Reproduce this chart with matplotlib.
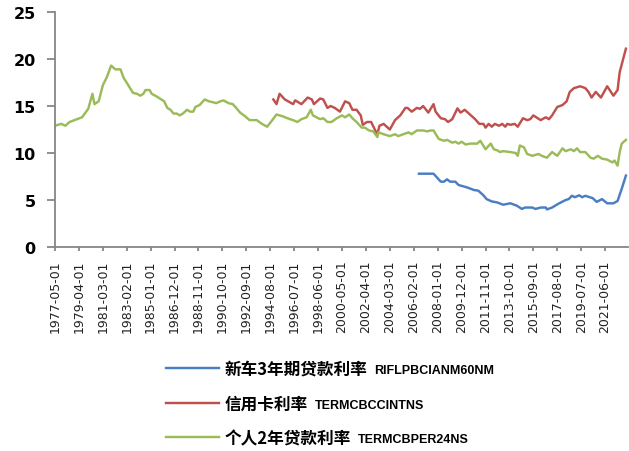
import numpy as np
import matplotlib
matplotlib.use('Agg')
import matplotlib.pyplot as plt

# category axis: monthly dates starting 1977-05, label every 23 months
start_year, start_month = 1977, 5
n_months = 551
label_step = 23

car_name = '新车3年期贷款利率'
car_code = 'RIFLPBCIANM60NM'
car_dates = ['2006-07', '2007-09', '2008-04', '2008-07', '2008-10', '2009-01', '2009-06', '2009-09',
             '2010-05', '2010-12', '2011-04', '2011-09', '2011-12', '2012-05', '2012-10', '2013-04',
             '2013-11', '2014-05', '2014-10', '2015-01', '2015-08', '2015-11', '2016-04', '2016-09',
             '2016-10', '2017-03', '2017-09', '2018-04', '2018-07', '2018-10', '2019-01', '2019-05',
             '2019-08', '2019-11', '2020-06', '2020-10', '2021-03', '2021-08', '2022-02', '2022-06',
             '2022-10', '2023-02']
car_rate = [7.8, 7.8, 6.95, 6.95, 7.2, 6.95, 6.95, 6.6,
            6.35, 6.06, 6.0, 5.5, 5.1, 4.85, 4.75, 4.5,
            4.65, 4.4, 4.05, 4.2, 4.2, 4.05, 4.2, 4.2,
            4.0, 4.2, 4.6, 5.0, 5.1, 5.45, 5.3, 5.5,
            5.3, 5.45, 5.2, 4.8, 5.1, 4.65, 4.65, 4.9,
            6.2, 7.6]

card_name = '信用卡利率'
card_code = 'TERMCBCCINTNS'
card_dates = ['1994-11', '1995-02', '1995-05', '1995-10', '1996-06', '1996-08', '1997-02', '1997-08',
              '1997-12', '1998-02', '1998-08', '1998-11', '1999-03', '1999-06', '1999-10', '2000-03',
              '2000-08', '2000-12', '2001-03', '2001-07', '2001-11', '2002-01', '2002-05', '2002-09',
              '2003-01', '2003-03', '2003-05', '2003-09', '2004-03', '2004-08', '2005-01', '2005-06',
              '2005-08', '2005-12', '2006-05', '2006-08', '2006-11', '2007-04', '2007-09', '2007-11',
              '2008-04', '2008-08', '2008-11', '2009-03', '2009-08', '2009-11', '2010-03', '2010-08',
              '2011-01', '2011-05', '2011-09', '2011-11', '2012-02', '2012-05', '2012-08', '2012-12',
              '2013-03', '2013-06', '2013-08', '2013-11', '2014-03', '2014-06', '2014-11', '2015-03',
              '2015-06', '2015-09', '2016-04', '2016-09', '2016-12', '2017-03', '2017-08', '2018-01',
              '2018-05', '2018-08', '2018-12', '2019-06', '2019-11', '2020-02', '2020-05', '2020-09',
              '2021-02', '2021-08', '2022-02', '2022-06', '2022-08', '2023-02']
card_rate = [15.7, 15.2, 16.3, 15.7, 15.2, 15.6, 15.2, 15.9,
             15.7, 15.2, 15.8, 15.7, 14.8, 15.0, 14.8, 14.4,
             15.5, 15.3, 14.6, 14.6, 14.0, 13.0, 13.3, 13.3,
             12.4, 12.0, 12.9, 13.1, 12.5, 13.5, 14.0, 14.8,
             14.8, 14.4, 14.8, 14.7, 15.0, 14.3, 15.2, 14.4,
             13.7, 13.6, 13.3, 13.6, 14.75, 14.3, 14.6, 14.1,
             13.6, 13.1, 13.1, 12.7, 13.1, 12.8, 13.1, 12.9,
             13.1, 12.8, 13.1, 13.0, 13.1, 12.8, 13.7, 13.5,
             13.6, 14.0, 13.5, 13.8, 13.6, 14.0, 14.9, 15.1,
             15.5, 16.5, 16.9, 17.1, 16.9, 16.5, 15.9, 16.5,
             15.9, 17.1, 16.1, 16.7, 18.6, 21.1]

personal_name = '个人2年贷款利率'
personal_code = 'TERMCBPER24NS'
personal_dates = ['1977-05', '1977-11', '1978-03', '1978-07', '1979-07', '1980-01', '1980-05', '1980-07',
                  '1980-11', '1981-03', '1981-07', '1981-11', '1982-03', '1982-08', '1982-11', '1983-03',
                  '1983-08', '1983-12', '1984-03', '1984-06', '1984-08', '1984-12', '1985-02', '1985-07',
                  '1986-02', '1986-05', '1986-08', '1986-11', '1987-02', '1987-05', '1987-08', '1987-12',
                  '1988-03', '1988-06', '1988-08', '1988-12', '1989-05', '1989-09', '1990-01', '1990-04',
                  '1990-08', '1990-11', '1991-04', '1991-08', '1991-12', '1992-03', '1992-08', '1992-12',
                  '1993-07', '1993-12', '1994-05', '1994-10', '1995-02', '1995-08', '1996-03', '1996-06',
                  '1996-10', '1997-02', '1997-07', '1997-11', '1998-01', '1998-08', '1998-11', '1999-03',
                  '1999-07', '1999-12', '2000-05', '2000-08', '2000-12', '2001-03', '2001-07', '2001-12',
                  '2002-03', '2002-07', '2002-11', '2003-03', '2003-04', '2003-09', '2004-03', '2004-08',
                  '2004-11', '2005-04', '2005-09', '2005-12', '2006-05', '2006-11', '2007-03', '2007-06',
                  '2007-09', '2008-02', '2008-07', '2008-10', '2009-03', '2009-06', '2009-09', '2009-12',
                  '2010-04', '2010-08', '2011-03', '2011-06', '2011-11', '2012-04', '2012-07', '2012-10',
                  '2013-01', '2013-04', '2013-11', '2014-04', '2014-06', '2014-08', '2014-12', '2015-03',
                  '2015-08', '2016-02', '2016-05', '2016-10', '2017-03', '2017-08', '2018-01', '2018-04',
                  '2018-09', '2018-12', '2019-03', '2019-06', '2019-11', '2020-04', '2020-07', '2020-11',
                  '2021-03', '2021-08', '2022-01', '2022-03', '2022-06', '2022-08', '2022-10', '2023-02']
personal_rate = [12.9, 13.1, 12.9, 13.3, 13.8, 14.7, 16.3, 15.2,
                 15.5, 17.2, 18.1, 19.3, 18.9, 18.9, 18.0, 17.3,
                 16.4, 16.3, 16.1, 16.3, 16.7, 16.7, 16.3, 16.0,
                 15.5, 14.8, 14.6, 14.2, 14.2, 14.0, 14.2, 14.6,
                 14.4, 14.4, 14.9, 15.1, 15.7, 15.5, 15.4, 15.3,
                 15.5, 15.6, 15.3, 15.2, 14.7, 14.3, 13.9, 13.5,
                 13.5, 13.1, 12.8, 13.5, 14.1, 13.9, 13.6, 13.5,
                 13.3, 13.6, 13.8, 14.6, 14.0, 13.6, 13.7, 13.3,
                 13.3, 13.7, 14.0, 13.8, 14.1, 13.7, 13.3, 12.7,
                 12.7, 12.4, 12.3, 11.7, 12.2, 12.0, 11.8, 12.0,
                 11.8, 12.0, 12.2, 12.0, 12.4, 12.4, 12.3, 12.4,
                 12.4, 11.5, 11.3, 11.4, 11.1, 11.2, 11.0, 11.2,
                 10.9, 11.0, 11.0, 11.3, 10.4, 11.0, 10.4, 10.3,
                 10.1, 10.2, 10.1, 10.0, 9.7, 10.8, 10.6, 9.9,
                 9.7, 9.9, 9.7, 9.5, 10.1, 9.7, 10.5, 10.2,
                 10.4, 10.2, 10.5, 10.1, 10.1, 9.5, 9.4, 9.7,
                 9.4, 9.3, 9.0, 9.2, 8.65, 10.1, 11.0, 11.4]


def month_index(dates):
    out = []
    for d in dates:
        y, m = d.split('-')
        out.append((int(y) - start_year) * 12 + int(m) - start_month)
    return np.array(out)


def month_label(i):
    t = start_year * 12 + start_month - 1 + i
    return '%d-%02d-01' % (t // 12, t % 12 + 1)


fig = plt.figure(figsize=(6.29, 4.52), dpi=100)
ax = fig.add_axes([0.0874, 0.4513, 0.9110, 0.5199])

cjk = ['Noto Sans CJK SC', 'DejaVu Sans']

series = [
    (car_dates, car_rate, car_name, car_code, '#4A7EC2'),
    (card_dates, card_rate, card_name, card_code, '#C0504D'),
    (personal_dates, personal_rate, personal_name, personal_code, '#9BBB59'),
]
for dates, rate, name, code, color in series:
    ax.plot(month_index(dates), rate, color=color, lw=1.75, label=name)

ax.set_xlim(0, n_months)
ax.set_ylim(0, 25)
ticks = np.arange(0, n_months, label_step)
ax.set_xticks(ticks)
ax.set_xticklabels([month_label(i) for i in ticks], rotation=90, fontsize=9, color='#222222')
ax.set_yticks(np.arange(0, 26, 5))
ax.set_yticklabels([str(v) for v in range(0, 26, 5)], fontsize=11.5, fontweight='bold')

for side in ['top', 'right']:
    ax.spines[side].set_visible(False)
for side in ['left', 'bottom']:
    ax.spines[side].set_color('#868686')
    ax.spines[side].set_linewidth(1.3)
ax.tick_params(axis='y', length=6, width=1.3, color='#868686', pad=8)
ax.tick_params(axis='x', length=3, width=1.3, color='#868686', pad=6)

leg = fig.legend(loc='upper left', bbox_to_anchor=(0.25, 0.22), frameon=False,
                 prop={'family': cjk, 'weight': 'bold', 'size': 12},
                 handlelength=3.2, handletextpad=0.35, labelspacing=1.0, borderpad=0)

# series codes sit right after the Chinese names, in a smaller font
fig.canvas.draw()
inv = fig.transFigure.inverted()
for txt, s in zip(leg.get_texts(), series):
    bb = txt.get_window_extent()
    x, y = inv.transform((bb.x1 + 7, (bb.y0 + bb.y1) / 2 - 1))
    fig.text(x, y, s[3], va='center', ha='left', fontsize=9, fontweight='bold',
             family='Liberation Sans')

fig.savefig('out.png', dpi=100)
